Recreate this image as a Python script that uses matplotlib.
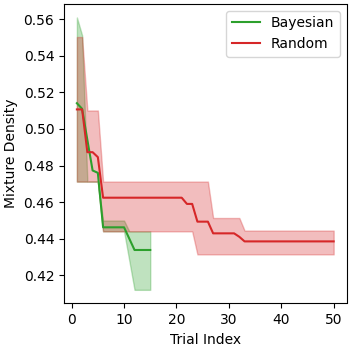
import matplotlib
matplotlib.use("Agg")
import matplotlib.pyplot as plt

bayes_x = list(range(1, 16))
bayes_mean = [0.5141, 0.5110, 0.4940, 0.4773, 0.4760, 0.4462, 0.4462, 0.4462, 0.4462, 0.4462,
              0.4400, 0.4338, 0.4338, 0.4338, 0.4338]
bayes_low = [0.4712, 0.4712, 0.4712, 0.4712, 0.4712, 0.4440, 0.4440, 0.4440, 0.4440, 0.4440,
             0.4280, 0.4120, 0.4120, 0.4120, 0.4120]
bayes_high = [0.5610, 0.5512, 0.4712, 0.4712, 0.4712, 0.4499, 0.4499, 0.4499, 0.4499, 0.4499,
              0.4440, 0.4440, 0.4440, 0.4440, 0.4440]

rand_x = list(range(1, 51))
rand_mean = ([0.5107, 0.5107, 0.4873, 0.4873, 0.4846] + [0.4624] * 16 + [0.4590, 0.4590]
             + [0.4493] * 3 + [0.4429] * 5 + [0.4410] + [0.4385] * 18)
rand_low = [0.4712] * 5 + [0.4440] * 18 + [0.4314] * 27
rand_high = [0.5503, 0.5503, 0.5101, 0.5101, 0.5101] + [0.4712] * 21 + [0.4513] * 6 + [0.4444] * 18

fig, ax = plt.subplots(figsize=(3.5, 3.5), dpi=100)
ax.plot(bayes_x, bayes_mean, color='tab:green', label='Bayesian')
ax.fill_between(bayes_x, bayes_low, bayes_high, color='tab:green', alpha=0.3)
ax.plot(rand_x, rand_mean, color='tab:red', label='Random')
ax.fill_between(rand_x, rand_low, rand_high, color='tab:red', alpha=0.3)

ax.set_xlabel('Trial Index')
ax.set_ylabel('Mixture Density')
ax.set_xticks([0, 10, 20, 30, 40, 50])
ax.legend(loc='upper right')

fig.subplots_adjust(left=0.183, right=0.99, top=0.989, bottom=0.133)
fig.savefig('out.png')
